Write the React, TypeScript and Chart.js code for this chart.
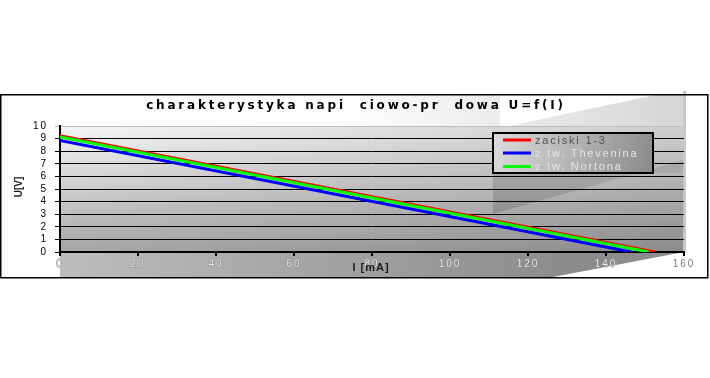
import { useEffect, useRef } from 'react';
import { Chart, registerables } from 'chart.js';

Chart.register(...registerables);

const titleText = 'charakterystyka napi  ciowo-pr  dowa U=f(I)';
const xAxisTitle = 'I [mA]';
const yAxisTitle = 'U[V]';
const seriesNames = ['zaciski 1-3', 'z tw. Thevenina', 'z tw. Nortona'];
const seriesColors = ['#ff0000', '#0000ff', '#00ff00'];
const currentRed = [0, 152.5];
const voltageRed = [9.22, 0];
const currentBlue = [0, 146.5];
const voltageBlue = [8.85, 0];
const currentGreen = [0, 151];
const voltageGreen = [9.12, 0];
const xMin = 0;
const xMax = 160;
const xStep = 20;
const yMin = 0;
const yMax = 10;
const yStep = 1;

const FONT = '"Liberation Sans", Arial, sans-serif';
const WIDE_FONT = '"DejaVu Sans", "Liberation Sans", sans-serif';

const toPoints = (xs: number[], ys: number[]) => xs.map((x, i) => ({ x, y: ys[i] }));

const backgroundPlugin = {
  id: 'bgPlugin',
  beforeDraw(chart: any) {
    const ctx = chart.ctx as CanvasRenderingContext2D;
    const { left, right, top, bottom } = chart.chartArea;
    ctx.save();
    (ctx as any).letterSpacing = '0px';
    ctx.fillStyle = '#ffffff';
    ctx.fillRect(0, 0, chart.width, chart.height);

    // title band
    const tg = ctx.createLinearGradient(left, 0, right, 0);
    tg.addColorStop(0, '#ffffff');
    tg.addColorStop(0.45, '#ffffff');
    tg.addColorStop(1, '#d6d6d6');
    ctx.fillStyle = tg;
    ctx.fillRect(left, 95, right - left, top - 95);
    ctx.fillStyle = '#ffffff';
    ctx.beginPath();
    ctx.moveTo(500, 95);
    ctx.lineTo(655, 95);
    ctx.lineTo(500, 128);
    ctx.closePath();
    ctx.fill();

    // plot area
    const vg = ctx.createLinearGradient(0, top, 0, bottom);
    vg.addColorStop(0, '#f6f6f6');
    vg.addColorStop(1, '#a6a6a6');
    ctx.fillStyle = vg;
    ctx.fillRect(left, top, right - left, bottom - top);
    const hg = ctx.createLinearGradient(left, 0, right, 0);
    hg.addColorStop(0, 'rgba(0,0,0,0)');
    hg.addColorStop(1, 'rgba(0,0,0,0.16)');
    ctx.fillStyle = hg;
    ctx.fillRect(left, top, right - left, bottom - top);

    // legend shadow polygon
    const sg = ctx.createLinearGradient(0, 173, 0, 215);
    sg.addColorStop(0, '#a8a8a8');
    sg.addColorStop(1, '#8e8e8e');
    ctx.fillStyle = sg;
    ctx.beginPath();
    ctx.moveTo(493, 173);
    ctx.lineTo(684, 173);
    ctx.lineTo(684, 160);
    ctx.lineTo(493, 214);
    ctx.closePath();
    ctx.fill();

    // light column at right edge
    ctx.fillStyle = '#c8c8c8';
    ctx.fillRect(right - 1, 91, 3, bottom - 91);

    // strip below plot
    const bg = ctx.createLinearGradient(left, 0, 560, 0);
    bg.addColorStop(0, '#bdbdbd');
    bg.addColorStop(1, '#8c8c8c');
    ctx.fillStyle = bg;
    ctx.beginPath();
    ctx.moveTo(left, bottom);
    ctx.lineTo(right, bottom);
    ctx.lineTo(553, 277);
    ctx.lineTo(left, 277);
    ctx.closePath();
    ctx.fill();

    // outer frame
    ctx.strokeStyle = '#000000';
    ctx.lineWidth = 1.5;
    ctx.strokeRect(0.75, 94.75, 707, 183);
    ctx.restore();
    (ctx as any).letterSpacing = '2px';
  },
  afterDraw(chart: any) {
    const ctx = chart.ctx as CanvasRenderingContext2D;
    ctx.save();
    // title
    (ctx as any).letterSpacing = '2.8px';
    ctx.fillStyle = '#000000';
    ctx.font = `bold 12px ${WIDE_FONT}`;
    ctx.textAlign = 'center';
    ctx.textBaseline = 'middle';
    ctx.fillText(titleText, 356, 106);

    // x axis title
    (ctx as any).letterSpacing = '1px';
    ctx.font = `bold 11px ${FONT}`;
    ctx.fillStyle = '#1a1a1a';
    ctx.fillText(xAxisTitle, 371, 268);

    // y axis title
    ctx.save();
    ctx.translate(19, 187);
    ctx.rotate(-Math.PI / 2);
    ctx.font = `bold 10px ${FONT}`;
    (ctx as any).letterSpacing = '0px';
    ctx.fillText(yAxisTitle, 0, 0);
    ctx.restore();

    // legend
    const lx = 493;
    const ly = 133;
    const lw = 160;
    const lh = 40;
    const lgr = ctx.createLinearGradient(lx, ly, lx + lw, ly + lh);
    lgr.addColorStop(0, '#dcdcdc');
    lgr.addColorStop(1, '#8a8a8a');
    ctx.fillStyle = lgr;
    ctx.fillRect(lx, ly, lw, lh);
    ctx.strokeStyle = '#000000';
    ctx.lineWidth = 2;
    ctx.strokeRect(lx, ly, lw, lh);
    ctx.font = `11px ${FONT}`;
    ctx.textAlign = 'left';
    ctx.textBaseline = 'middle';
    (ctx as any).letterSpacing = '1.8px';
    const rows = [140, 153, 166.5];
    chart.data.datasets.forEach((ds: any, i: number) => {
      const y = rows[i];
      ctx.strokeStyle = ds.borderColor;
      ctx.lineWidth = 3;
      ctx.beginPath();
      ctx.moveTo(503, y);
      ctx.lineTo(531, y);
      ctx.stroke();
      ctx.fillStyle = i === 0 ? '#505050' : '#e6e6e6';
      ctx.fillText(ds.label, 535, y + 0.5);
    });
    ctx.restore();
  },
};

export default function App() {
  const canvasRef = useRef<HTMLCanvasElement | null>(null);

  useEffect(() => {
    const canvas = canvasRef.current;
    if (!canvas) return;
    const chart = new Chart(canvas, {
      type: 'scatter',
      data: {
        datasets: [
          {
            label: seriesNames[0],
            data: toPoints(currentRed, voltageRed),
            borderColor: seriesColors[0],
            backgroundColor: seriesColors[0],
            showLine: true,
            pointRadius: 0,
            borderWidth: 3,
            order: 2,
          },
          {
            label: seriesNames[1],
            data: toPoints(currentBlue, voltageBlue),
            borderColor: seriesColors[1],
            backgroundColor: seriesColors[1],
            showLine: true,
            pointRadius: 0,
            borderWidth: 3,
            order: 1,
          },
          {
            label: seriesNames[2],
            data: toPoints(currentGreen, voltageGreen),
            borderColor: seriesColors[2],
            backgroundColor: seriesColors[2],
            showLine: true,
            pointRadius: 0,
            borderWidth: 3,
            order: 0,
          },
        ],
      },
      options: {
        animation: false,
        responsive: false,
        devicePixelRatio: 1,
        layout: { padding: { left: 0, top: 126, right: 26, bottom: 100 } },
        plugins: {
          legend: { display: false },
          title: { display: false },
          tooltip: { enabled: false },
        },
        scales: {
          x: {
            type: 'linear',
            min: xMin,
            max: xMax,
            ticks: {
              stepSize: xStep,
              autoSkip: false,
              font: { family: FONT, size: 10 },
              color: (c: any) => (c.index === 8 ? '#777777' : '#eeeeee'),
              textStrokeColor: '#7a7a7a',
              textStrokeWidth: (c: any) => (c.index === 8 ? 0 : 0.8),
              padding: 2,
              maxRotation: 0,
            },
            grid: {
              drawOnChartArea: false,
              drawTicks: true,
              tickLength: 4,
              color: '#000000',
              lineWidth: 2,
            },
            border: { color: '#000000', width: 2 },
            afterFit: (scale: any) => {
              scale.height = 26;
            },
          },
          y: {
            type: 'linear',
            min: yMin,
            max: yMax,
            ticks: {
              stepSize: yStep,
              autoSkip: false,
              font: { family: FONT, size: 10 },
              color: '#000000',
              padding: 7,
            },
            grid: {
              color: (c: any) => (c.index === 10 ? '#bdbdbd' : '#000000'),
              lineWidth: 1,
              tickLength: 5,
            },
            border: { color: '#000000', width: 2 },
            afterFit: (scale: any) => {
              scale.width = 60;
            },
          },
        },
      },
      plugins: [backgroundPlugin],
    } as any);
    return () => chart.destroy();
  }, []);

  return (
    <div style={{ position: 'fixed', left: 0, top: 0, width: 710, height: 378 }}>
      <canvas ref={canvasRef} width={710} height={378} style={{ display: 'block' }} />
    </div>
  );
}
